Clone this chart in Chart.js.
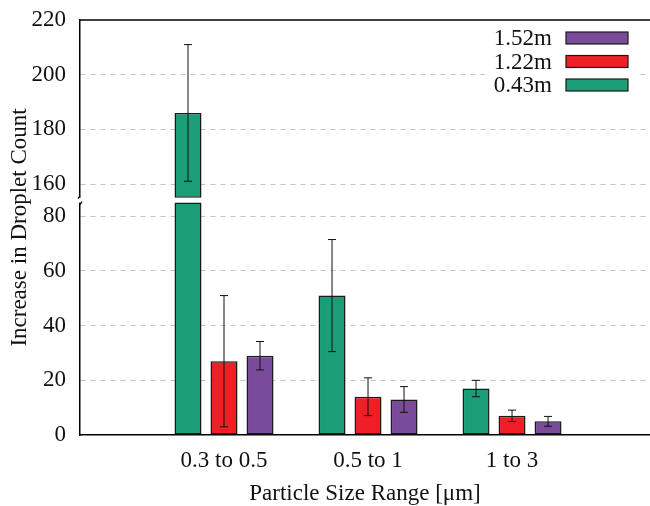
<!DOCTYPE html>
<html>
<head>
<meta charset="utf-8">
<script src="https://cdn.jsdelivr.net/npm/chart.js@4.4.1/dist/chart.umd.min.js"></script>
<style>
  html, body { margin: 0; background: #fff; }
  #wrap { width: 650px; height: 506px; }
</style>
</head>
<body>
<div id="wrap"><canvas id="chart"></canvas></div>
<script>
// droplet count increase per particle size bin, three distances
const categories = ['0.3 to 0.5', '0.5 to 1', '1 to 3']
const seriesLabels = ['0.43m', '1.22m', '1.52m']
const mean043 = [186, 51, 17]
const mean122 = [27, 14, 7]
const mean152 = [29, 13, 5]
const err043 = [25, 20.5, 3]
const err122 = [24, 6.9, 2.1]
const err152 = [5.2, 4.7, 1.8]
const lowerTicks = [0, 20, 40, 60, 80]
const upperTicks = [160, 180, 200, 220]

// broken y axis: lower panel 0..85, upper panel 155..220
const lowerTop = 85
const upperBottom = 155
const yMax = 220
const gap = 0.9

const means = [mean043, mean122, mean152]
const errs = [err043, err122, err152]
const colors = ['#1b9e77', '#ee1f25', '#7b4b9b']
const font = { family: "'Liberation Serif', 'DejaVu Serif', serif", size: 23 }
const ink = '#111'
const gridColor = '#c4c4c4'

const datasets = []
seriesLabels.forEach((label, s) => {
  const common = {
    label, stack: label,
    backgroundColor: colors[s], borderColor: '#1a1a1a', borderWidth: 1.5, borderSkipped: false,
    categoryPercentage: 0.75, barPercentage: 0.75,
  }
  datasets.push({ ...common, yAxisID: 'y', data: means[s].map((v, i) => ({ x: i, y: Math.min(v, lowerTop) })) })
  datasets.push({ ...common, yAxisID: 'yTop', data: means[s].map((v, i) => ({ x: i, y: v > upperBottom ? [upperBottom, v] : null })) })
})

const fontStr = `${font.size}px ${font.family}`

// fixed axis sizes so the plot box lands where the reference has it
const fitY = s => { s.width = 80; s.paddingTop = 0; s.paddingBottom = 0 }
const fitX = s => { s.height = 71; s.paddingLeft = 0; s.paddingRight = 0 }

const extras = {
  id: 'extras',
  afterDatasetsDraw(chart) {
    const { ctx, scales } = chart
    ctx.save()
    ctx.strokeStyle = ink
    ctx.lineWidth = 1
    means.forEach((vals, s) => {
      const meta = chart.getDatasetMeta(s * 2)
      vals.forEach((v, i) => {
        const sc = v > upperBottom ? scales.yTop : scales.y
        const x = meta.data[i].x
        const y1 = sc.getPixelForValue(v + errs[s][i])
        const y2 = sc.getPixelForValue(v - errs[s][i])
        ctx.beginPath()
        ctx.moveTo(x, y1); ctx.lineTo(x, y2)
        ctx.moveTo(x - 4, y1); ctx.lineTo(x + 4, y1)
        ctx.moveTo(x - 4, y2); ctx.lineTo(x + 4, y2)
        ctx.stroke()
      })
    })
    ctx.restore()
  },
  afterDraw(chart) {
    const { ctx, chartArea: a, scales } = chart
    ctx.save()
    // top frame line
    ctx.strokeStyle = '#000'
    ctx.lineWidth = 1.5
    ctx.beginPath(); ctx.moveTo(a.left, a.top); ctx.lineTo(a.right, a.top); ctx.stroke()

    // axis break
    const yU = scales.yTop.getPixelForValue(upperBottom)
    const yL = scales.y.getPixelForValue(lowerTop)
    ctx.fillStyle = '#fff'
    ctx.fillRect(a.left - 3, yU, 6, yL - yU)
    ctx.lineWidth = 1.2
    ctx.beginPath()
    ctx.moveTo(a.left, yU - 2); ctx.lineTo(a.left - 2, yU + 1)
    ctx.moveTo(a.left, yL + 2); ctx.lineTo(a.left + 2, yL - 1)
    ctx.stroke()

    // y title
    ctx.font = fontStr
    ctx.fillStyle = ink
    ctx.translate(20, (a.top + a.bottom) / 2)
    ctx.rotate(-Math.PI / 2)
    ctx.textAlign = 'center'
    ctx.textBaseline = 'middle'
    ctx.fillText('Increase in Droplet Count', 0, 0)
    ctx.setTransform(1, 0, 0, 1, 0, 0)
    ctx.restore()

    // legend, last series on top
    ctx.save()
    ctx.fillStyle = '#fff'
    ctx.fillRect(a.right - 165, a.top + 5, 155, 72)
    ctx.font = fontStr
    ctx.textAlign = 'right'
    ctx.textBaseline = 'middle'
    const order = seriesLabels.map((_, s) => s).reverse()
    order.forEach((s, row) => {
      const cy = a.top + 18 + row * 23.5
      ctx.fillStyle = ink
      ctx.fillText(seriesLabels[s], a.right - 98, cy + 1)
      ctx.fillStyle = colors[s]
      ctx.fillRect(a.right - 84, cy - 6, 62, 12)
      ctx.strokeStyle = '#1a1a1a'
      ctx.lineWidth = 1.2
      ctx.strokeRect(a.right - 84, cy - 6, 62, 12)
    })
    ctx.restore()
  },
}

new Chart(document.getElementById('chart'), {
  type: 'bar',
  data: { datasets },
  plugins: [extras],
  options: {
    responsive: true,
    maintainAspectRatio: false,
    animation: false,
    layout: { padding: { top: 20, left: 0, right: 0, bottom: 0 } },
    plugins: { legend: { display: false }, tooltip: { enabled: false } },
    scales: {
      x: {
        type: 'linear', min: -1, max: 2.958, offset: false,
        afterBuildTicks: s => { s.ticks = categories.map((_, i) => ({ value: i })) },
        afterFit: fitX,
        grid: { display: false, drawTicks: false },
        border: { color: '#000', width: 1.5 },
        ticks: { font, color: ink, padding: 12, maxRotation: 0, callback: v => categories[v] ?? '' },
        title: { display: true, text: 'Particle Size Range [μm]', font, color: ink, padding: { top: 0, bottom: -2 } },
      },
      y: {
        position: 'left', stack: 'v', stackWeight: lowerTop + gap, stacked: false,
        min: 0, max: lowerTop + gap,
        afterBuildTicks: s => { s.ticks = lowerTicks.map(value => ({ value })) },
        afterFit: fitY,
        grid: { color: c => (c.tick && c.tick.value === 0 ? 'transparent' : gridColor), lineWidth: 1, drawTicks: false },
        border: { color: '#000', width: 1.5, dash: [5, 5] },
        ticks: { font, color: ink, padding: 14 },
      },
      yTop: {
        position: 'left', stack: 'v', stackWeight: yMax - upperBottom + gap, stacked: false,
        min: upperBottom - gap, max: yMax,
        afterBuildTicks: s => { s.ticks = upperTicks.map(value => ({ value })) },
        afterFit: fitY,
        grid: { color: c => (c.tick && c.tick.value === yMax ? 'transparent' : gridColor), lineWidth: 1, drawTicks: false },
        border: { color: '#000', width: 1.5, dash: [5, 5] },
        ticks: { font, color: ink, padding: 14 },
      },
    },
  },
})
</script>
</body>
</html>
